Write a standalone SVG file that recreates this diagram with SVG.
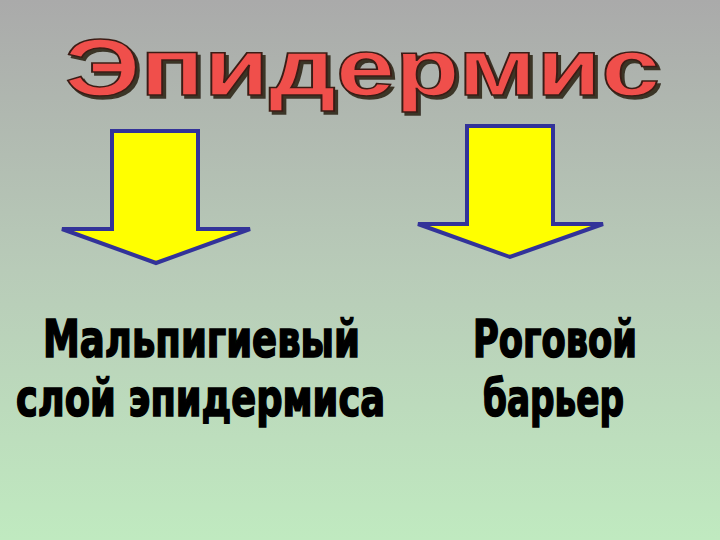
<svg xmlns="http://www.w3.org/2000/svg" width="720" height="540" viewBox="0 0 720 540">
<defs>
<linearGradient id="bg" x1="0" y1="0" x2="0" y2="1">
<stop offset="0" stop-color="#aaaaaa"/>
<stop offset="0.5" stop-color="#b8cbb8"/>
<stop offset="1" stop-color="#c0eac0"/>
</linearGradient>
<filter id="shadow" x="-5%" y="-20%" width="110%" height="140%">
<feOffset in="SourceAlpha" dx="3" dy="3" result="off"/>
<feFlood flood-color="#3a3428"/>
<feComposite in2="off" operator="in" result="sh"/>
<feMerge><feMergeNode in="sh"/><feMergeNode in="SourceGraphic"/></feMerge>
</filter>
<style>
.arrow{fill:#ffff00;stroke:#333399;stroke-width:4;stroke-linejoin:miter}
.lbl{font-family:"DejaVu Sans Condensed","DejaVu Sans","Liberation Sans Narrow",sans-serif;font-weight:bold;font-stretch:condensed;font-size:51px;fill:#000;stroke:#000;stroke-width:1.6}
.ttl{font-family:"Liberation Sans",Arial,sans-serif;font-weight:bold;font-size:80px}
</style>
</defs>
<rect x="0" y="0" width="720" height="540" fill="url(#bg)"/>
<g id="title">
<text class="ttl" x="65" y="95" textLength="595" lengthAdjust="spacingAndGlyphs" fill="#f0504c" stroke="#3a1c14" stroke-width="1.5" filter="url(#shadow)">Эпидермис</text>
</g>
<g id="connectors">
<path class="arrow" d="M112,131 L198,131 L198,229 L250,229 L156,263 L62,229 L112,229 Z"/>
<path class="arrow" d="M467,126 L553,126 L553,224 L603,224 L510,257 L418,224 L467,224 Z"/>
</g>
<g id="node-left">
<text class="lbl"><tspan x="43" y="357" textLength="317" lengthAdjust="spacingAndGlyphs">Мальпигиевый</tspan><tspan x="16" y="416" textLength="369" lengthAdjust="spacingAndGlyphs">слой эпидермиса</tspan></text>
</g>
<g id="node-right">
<text class="lbl"><tspan x="473" y="357" textLength="164" lengthAdjust="spacingAndGlyphs">Роговой</tspan><tspan x="483" y="416" textLength="141" lengthAdjust="spacingAndGlyphs">барьер</tspan></text>
</g>
</svg>
